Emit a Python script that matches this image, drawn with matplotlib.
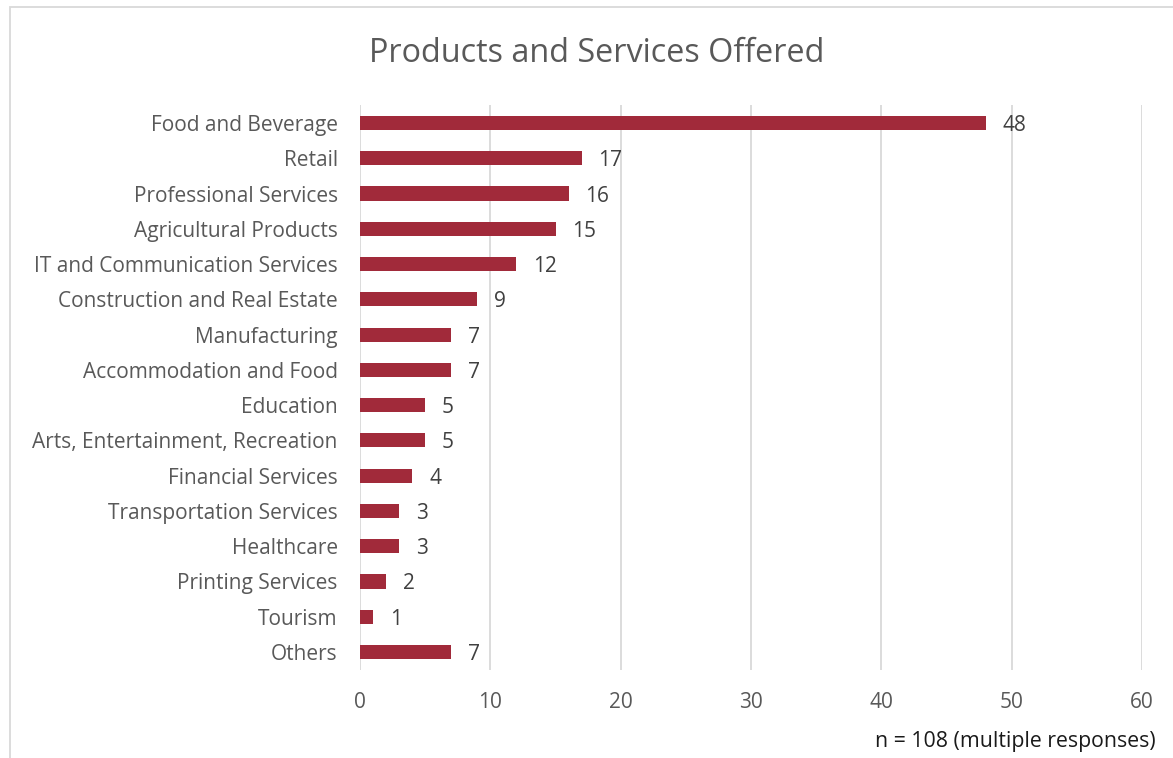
import matplotlib.pyplot as plt
from matplotlib.patches import Rectangle

categories = [
    "Food and Beverage", "Retail", "Professional Services", "Agricultural Products",
    "IT and Communication Services", "Construction and Real Estate", "Manufacturing",
    "Accommodation and Food", "Education", "Arts, Entertainment, Recreation",
    "Financial Services", "Transportation Services", "Healthcare", "Printing Services",
    "Tourism", "Others",
]
counts = [48, 17, 16, 15, 12, 9, 7, 7, 5, 5, 4, 3, 3, 2, 1, 7]
x_ticks = [0, 10, 20, 30, 40, 50, 60]

plt.rcParams['font.family'] = ['Open Sans', 'DejaVu Sans']
text_gray = "#595959"
bar_color = "#A12A3A"

fig = plt.figure(figsize=(11.73, 7.58), dpi=100)
ax = fig.add_axes([0.3069, 0.1166, 0.6667, 0.7444])

pos = list(range(len(categories)))
ax.barh(pos, counts, height=0.4, color=bar_color, zorder=3)
for p, v in zip(pos, counts):
    ax.text(v + 1.3, p, str(v), va="center_baseline", ha="left", fontsize=15, color="#404040")

ax.set_ylim(len(categories) - 0.5, -0.5)
ax.set_xlim(0, 60)
ax.set_yticks(pos)
ax.set_yticklabels(categories, fontsize=15, color=text_gray)
ax.set_xticks(x_ticks)
ax.set_xticklabels([str(t) for t in x_ticks], fontsize=15, color=text_gray)
ax.tick_params(axis="both", length=0)
ax.tick_params(axis="y", pad=16)
ax.tick_params(axis="x", pad=16)
ax.grid(axis="x", color="#D9D9D9", linewidth=1.3, zorder=0)
for s in ax.spines.values():
    s.set_visible(False)

fig.text(0.509, 0.93, "Products and Services Offered", ha="center", va="center",
         fontsize=23.3, color=text_gray)
fig.text(0.985, 0.022, "n = 108 (multiple responses)", ha="right", va="center",
         fontsize=15.3, color="#1a1a1a")

# chart area border
fig.patches.append(Rectangle((10 / 1173, -0.05), 1.2, 1.05 - 7 / 758,
                             transform=fig.transFigure, fill=False,
                             edgecolor="#D9D9D9", linewidth=1.3))

fig.savefig("out.png", dpi=100)
